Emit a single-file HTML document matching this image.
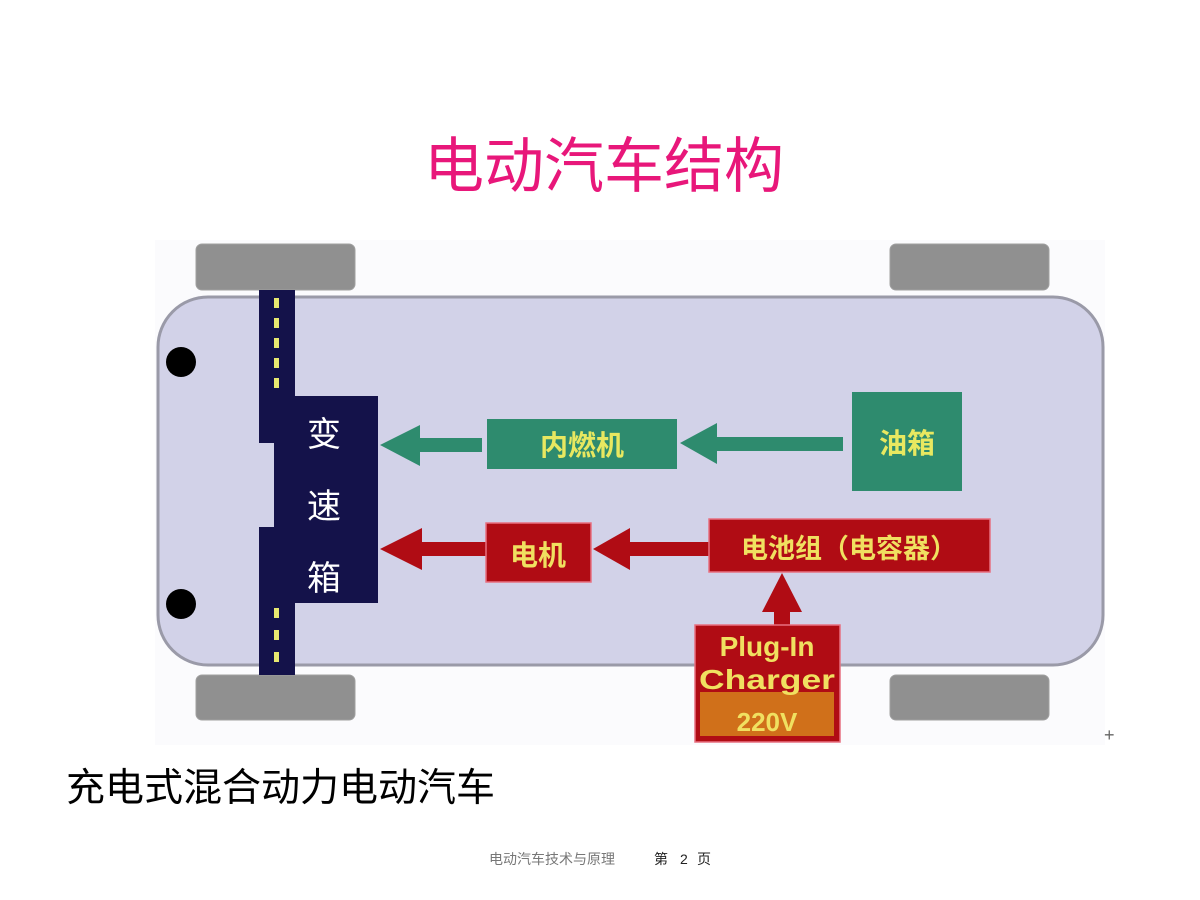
<!DOCTYPE html>
<html><head><meta charset="utf-8"><style>
body{margin:0;width:1200px;height:900px;background:#fff;overflow:hidden;font-family:"Liberation Sans","Noto Sans CJK SC",sans-serif;}
</style></head><body>
<svg width="1200" height="900" xmlns="http://www.w3.org/2000/svg" style="position:absolute;left:0;top:0">
<text x="604" y="187" text-anchor="middle" font-size="60" fill="#e8177a" font-family="Noto Sans CJK SC, sans-serif">电动汽车结构</text>
<rect x="155" y="240" width="950" height="505" fill="#fbfbfd"/>
<g fill="#909090" stroke="#a0a0a0"><rect x="196" y="244" width="159" height="46" rx="6"/><rect x="890" y="244" width="159" height="46" rx="6"/><rect x="196" y="675" width="159" height="45" rx="6"/><rect x="890" y="675" width="159" height="45" rx="6"/></g>
<rect x="158" y="297" width="945" height="368" rx="50" fill="#d2d2e8" stroke="#9a9aa8" stroke-width="3"/>
<circle cx="181" cy="362" r="15" fill="#000"/><circle cx="181" cy="604" r="15" fill="#000"/>
<polygon points="259,290 295,290 295,396 378,396 378,603 295,603 295,675 259,675 259,527 274,527 274,443 259,443" fill="#14124a"/>
<g fill="#e8e870">
<rect x="274" y="298" width="5" height="10"/><rect x="274" y="318" width="5" height="10"/><rect x="274" y="338" width="5" height="10"/><rect x="274" y="358" width="5" height="10"/><rect x="274" y="378" width="5" height="10"/>
<rect x="274" y="608" width="5" height="10"/><rect x="274" y="630" width="5" height="10"/><rect x="274" y="652" width="5" height="10"/></g>
<g fill="#fff" font-size="34" font-family="Noto Sans CJK SC, sans-serif" text-anchor="middle"><text x="324" y="446">变</text><text x="324" y="518">速</text><text x="324" y="590">箱</text></g>
<g fill="#2e8b6e">
<rect x="420" y="438" width="62" height="14"/><polygon points="380,445 420,425 420,466"/>
<rect x="487" y="419" width="190" height="50"/>
<rect x="715" y="437" width="128" height="14"/><polygon points="680,443 717,423 717,464"/>
<rect x="852" y="392" width="110" height="99"/></g>
<g fill="#e8e860" font-size="28" font-family="Noto Sans CJK SC, sans-serif" text-anchor="middle" font-weight="bold"><text x="582" y="455">内燃机</text><text x="907" y="453">油箱</text></g>
<g fill="#b00c14" stroke="#e87080" stroke-width="1.5">
<rect x="420" y="542" width="68" height="14" stroke="none"/><polygon points="380,549 422,528 422,570" stroke="none"/>
<rect x="486" y="523" width="105" height="59"/>
<rect x="630" y="542" width="82" height="14" stroke="none"/><polygon points="593,549 630,528 630,570" stroke="none"/>
<rect x="709" y="519" width="281" height="53"/>
<rect x="774" y="605" width="16" height="22" stroke="none"/><polygon points="782,573 762,612 802,612" stroke="none"/>
<rect x="695" y="625" width="145" height="117"/></g>
<rect x="700" y="692" width="134" height="44" fill="#d0701a"/>
<g fill="#f0e060" font-family="Noto Sans CJK SC, sans-serif" font-weight="bold" font-size="28"><text x="538" y="565" text-anchor="middle">电机</text><text x="849" y="558" text-anchor="middle" font-size="27">电池组（电容器）</text></g>
<g fill="#f0e060" font-family="Liberation Sans, sans-serif" font-weight="bold" text-anchor="middle"><text x="767" y="656" font-size="28">Plug-In</text><text x="767" y="689" font-size="28" textLength="136" lengthAdjust="spacingAndGlyphs">Charger</text><text x="767" y="731" font-size="26">220V</text></g>
<text x="1104" y="741" font-size="18" fill="#666">+</text>
<text x="66" y="801" font-size="39" fill="#000" font-family="Noto Sans CJK SC, sans-serif">充电式混合动力电动汽车</text>
<text x="489" y="864" font-size="14" fill="#777" font-family="Noto Sans CJK SC, sans-serif">电动汽车技术与原理</text>
<text x="654" y="864" font-size="14" fill="#222" font-family="Noto Sans CJK SC, sans-serif">第</text>
<text x="680" y="864" font-size="14" fill="#222" font-family="Liberation Sans, sans-serif">2</text>
<text x="697" y="864" font-size="14" fill="#222" font-family="Noto Sans CJK SC, sans-serif">页</text>
</svg>
</body></html>
